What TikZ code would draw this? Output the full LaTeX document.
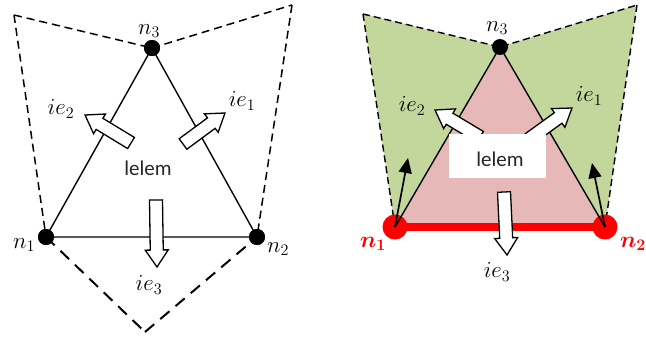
\RequirePackage{fix-cm}
\documentclass[tikz,border=0pt]{standalone}
\usepackage{bm}
\usepackage{fontspec}
\newfontfamily\carl{Carlito}
\usetikzlibrary{arrows.meta}
\definecolor{pinkfill}{HTML}{E6B9B8}
\definecolor{greenfill}{HTML}{C3D69B}
\definecolor{redc}{HTML}{FF0000}
\newcommand{\blockarr}[4]{%
  \pgfmathsetmacro\baang{atan2(-(#4)+(#2),(#3)-(#1))}%
  \pgfmathsetmacro\balen{veclen((#3)-(#1),(#4)-(#2))}%
  \pgfmathsetmacro\bahl{\balen-17}%
  \begin{scope}[shift={(#1,-#2)},rotate=\baang]
    \draw[barrow] (0,-6.5) -- (\bahl,-6.5) -- (\bahl,-11.5) -- (\balen,0) -- (\bahl,11.5) -- (\bahl,6.5) -- (0,6.5) -- cycle;
  \end{scope}}
\tikzset{
  barrow/.style={draw=black,fill=white,line width=1.3pt,line join=miter},
  edge/.style={draw=black,line width=1.4pt},
  dashA/.style={draw=black,line width=1.5pt,dash pattern=on 8pt off 5pt},
  dashB/.style={draw=black,line width=2pt,dash pattern=on 12pt off 8pt},
  dotb/.style={circle,fill=black,inner sep=0pt,minimum size=16pt},
  dotr/.style={circle,fill=redc,inner sep=0pt,minimum size=25pt},
  lab/.style={inner sep=0pt,font=\fontsize{23}{27}\selectfont},
  rlab/.style={lab,text=redc},
  txt/.style={inner sep=0pt,text=black!85,font=\carl\fontsize{21}{25}\selectfont},
  thinarr/.style={draw=black,line width=1.7pt,-{Triangle[length=15pt,width=13pt]}},
}
\begin{document}
\begin{tikzpicture}[x=1pt,y=1pt]
\useasboundingbox (0,0) rectangle (646,-337);
% ---------------- left diagram ----------------
\coordinate (LA) at (14,-15);
\coordinate (LB) at (292,-5);
\coordinate (LC) at (145,-332);
\node[dotb] (n1) at (46,-237) {};
\node[dotb] (n2) at (257,-237) {};
\node[dotb] (n3) at (152,-48) {};
\draw[edge] (n1.center) -- (n2.center) -- (n3.center) -- cycle;
\draw[dashA] (LA) -- (n3.center);
\draw[dashA] (n3.center) -- (LB);
\draw[dashA] (LB) -- (n2.center);
\draw[dashA] (LA) -- (n1.center);
\draw[dashB] (n1.center) -- (LC);
\draw[dashB] (LC) -- (n2.center);
\node[dotb] at (n1) {};
\node[dotb] at (n2) {};
\node[dotb] at (n3) {};
\blockarr{131}{143}{85}{115}
\blockarr{183}{144}{225}{113}
\blockarr{156}{200}{157}{267}
\node[lab] (ln3) at (149,-31) {$n_3$};
\node[lab] (ln1) at (24,-245) {$n_1$};
\node[lab] (ln2) at (278,-249) {$n_2$};
\node[lab] (lie2) at (61,-109) {$ie_2$};
\node[lab] (lie1) at (242,-101) {$ie_1$};
\node[lab] (lie3) at (149,-285) {$ie_3$};
\node[txt] (lel) at (148,-168) {lelem};
% ---------------- right diagram ----------------
\coordinate (RA) at (363,-14);
\coordinate (RB) at (637,-5);
\coordinate (rt1) at (408,-158);
\coordinate (rt2) at (592,-163);
\node[inner sep=0pt] (m1) at (395,-227) {};
\node[inner sep=0pt] (m2) at (605,-227) {};
\node[inner sep=0pt] (m3) at (500,-47) {};
\fill[greenfill] (RA) -- (m3.center) -- (m1.center) -- cycle;
\fill[greenfill] (RB) -- (m3.center) -- (m2.center) -- cycle;
\fill[pinkfill] (m1.center) -- (m2.center) -- (m3.center) -- cycle;
\draw[dashA,line width=1.4pt,dash pattern=on 7pt off 4pt] (RA) -- (m3.center) -- (RB);
\draw[dashA,line width=1.4pt,dash pattern=on 7pt off 4pt] (RA) -- (m1.center);
\draw[dashA,line width=1.4pt,dash pattern=on 7pt off 4pt] (RB) -- (m2.center);
\draw[redc,line width=8pt] (m1.center) -- (m2.center);
\node[dotr] (r1) at (m1) {};
\node[dotr] (r2) at (m2) {};
\draw[edge] (m1.center) -- (m3.center) -- (m2.center);
\node[dotb] (r3) at (m3) {};
\draw[thinarr] (m1.center) -- (rt1);
\draw[thinarr] (m2.center) -- (rt2);
\blockarr{480}{137}{435}{110}
\blockarr{529}{139}{572}{108}
\blockarr{504}{192}{507}{255}
\node[fill=white,minimum width=97pt,minimum height=44pt,inner sep=0pt] (box) at (497.5,-156) {};
\node[txt] (rlel) at (500,-159) {lelem};
\node[lab] (rn3) at (497,-28) {$n_3$};
\node[lab] (rie2) at (412,-106) {$ie_2$};
\node[lab] (rie1) at (589,-96) {$ie_1$};
\node[lab] (rie3) at (497,-272) {$ie_3$};
\node[rlab] (rn1) at (373,-244) {$\bm{n}_{\bm{1}}$};
\node[rlab] (rn2) at (633,-244) {$\bm{n}_{\bm{2}}$};
\end{tikzpicture}
\end{document}
